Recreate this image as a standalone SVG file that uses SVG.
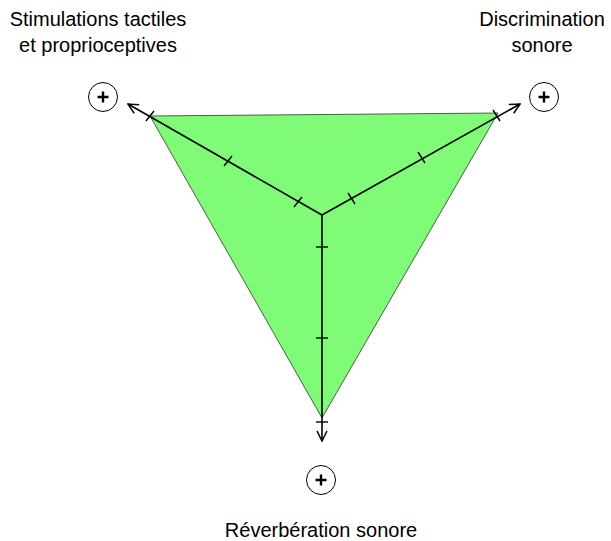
<svg xmlns="http://www.w3.org/2000/svg" width="611" height="541" viewBox="0 0 611 541">
  <style>
    .lbl { font-family: "Liberation Sans", Arial, sans-serif; font-size: 20px; fill: #000; text-anchor: middle; }
    .axis { stroke: #000; stroke-width: 1.6; fill: none; }
    .tick { stroke: #000; stroke-width: 1.4; }
    .badge circle { fill: #fff; stroke: #000; stroke-width: 1; }
    .badge path { stroke: #000; stroke-width: 2.4; }
  </style>
  <defs>
    <marker id="arrow" viewBox="0 0 12 12" refX="11" refY="6" markerWidth="12" markerHeight="12" markerUnits="userSpaceOnUse" orient="auto">
      <path d="M1,1 L11,6 L1,11" fill="none" stroke="#000" stroke-width="1.5"/>
    </marker>
  </defs>

  <rect width="611" height="541" fill="#fff"/>

  <!-- filled triangle joining the three scores -->
  <g id="triangle">
    <polygon points="150,116 498,113 322,418" fill="#7ffb78" stroke="#333" stroke-width="0.8"/>
  </g>

  <!-- three axes from the centre with graduations -->
  <g id="connectors">
    <line class="axis" x1="322" y1="215" x2="128" y2="104" marker-end="url(#arrow)"/>
    <line class="axis" x1="322" y1="215" x2="520" y2="104" marker-end="url(#arrow)"/>
    <line class="axis" x1="322" y1="215" x2="322" y2="441" marker-end="url(#arrow)"/>
    <!-- ticks, left axis -->
    <line class="tick" x1="302" y1="197" x2="294" y2="207"/>
    <line class="tick" x1="232" y1="156" x2="224" y2="166"/>
    <line class="tick" x1="154" y1="111" x2="146" y2="121"/>
    <!-- ticks, right axis -->
    <line class="tick" x1="348" y1="193" x2="355" y2="204"/>
    <line class="tick" x1="418" y1="152" x2="425" y2="163"/>
    <line class="tick" x1="493" y1="110" x2="500" y2="121"/>
    <!-- ticks, bottom axis -->
    <line class="tick" x1="316" y1="247" x2="328" y2="247"/>
    <line class="tick" x1="316" y1="338" x2="328" y2="338"/>
    <line class="tick" x1="316" y1="422" x2="328" y2="422"/>
  </g>

  <g id="node-tactile">
    <text class="lbl" x="98" y="26">Stimulations tactiles</text>
    <text class="lbl" x="98" y="52">et proprioceptives</text>
    <g class="badge">
      <circle cx="103" cy="97" r="14.5"/>
      <path d="M97.5,97 H108.5 M103,91.5 V102.5"/>
    </g>
  </g>

  <g id="node-discrimination">
    <text class="lbl" x="542" y="26">Discrimination</text>
    <text class="lbl" x="542" y="52">sonore</text>
    <g class="badge">
      <circle cx="544" cy="97" r="14.5"/>
      <path d="M538.5,97 H549.5 M544,91.5 V102.5"/>
    </g>
  </g>

  <g id="node-reverberation">
    <g class="badge">
      <circle cx="321" cy="480" r="14.5"/>
      <path d="M315.5,480 H326.5 M321,474.5 V485.5"/>
    </g>
    <text class="lbl" x="321" y="537">Réverbération sonore</text>
  </g>
</svg>
